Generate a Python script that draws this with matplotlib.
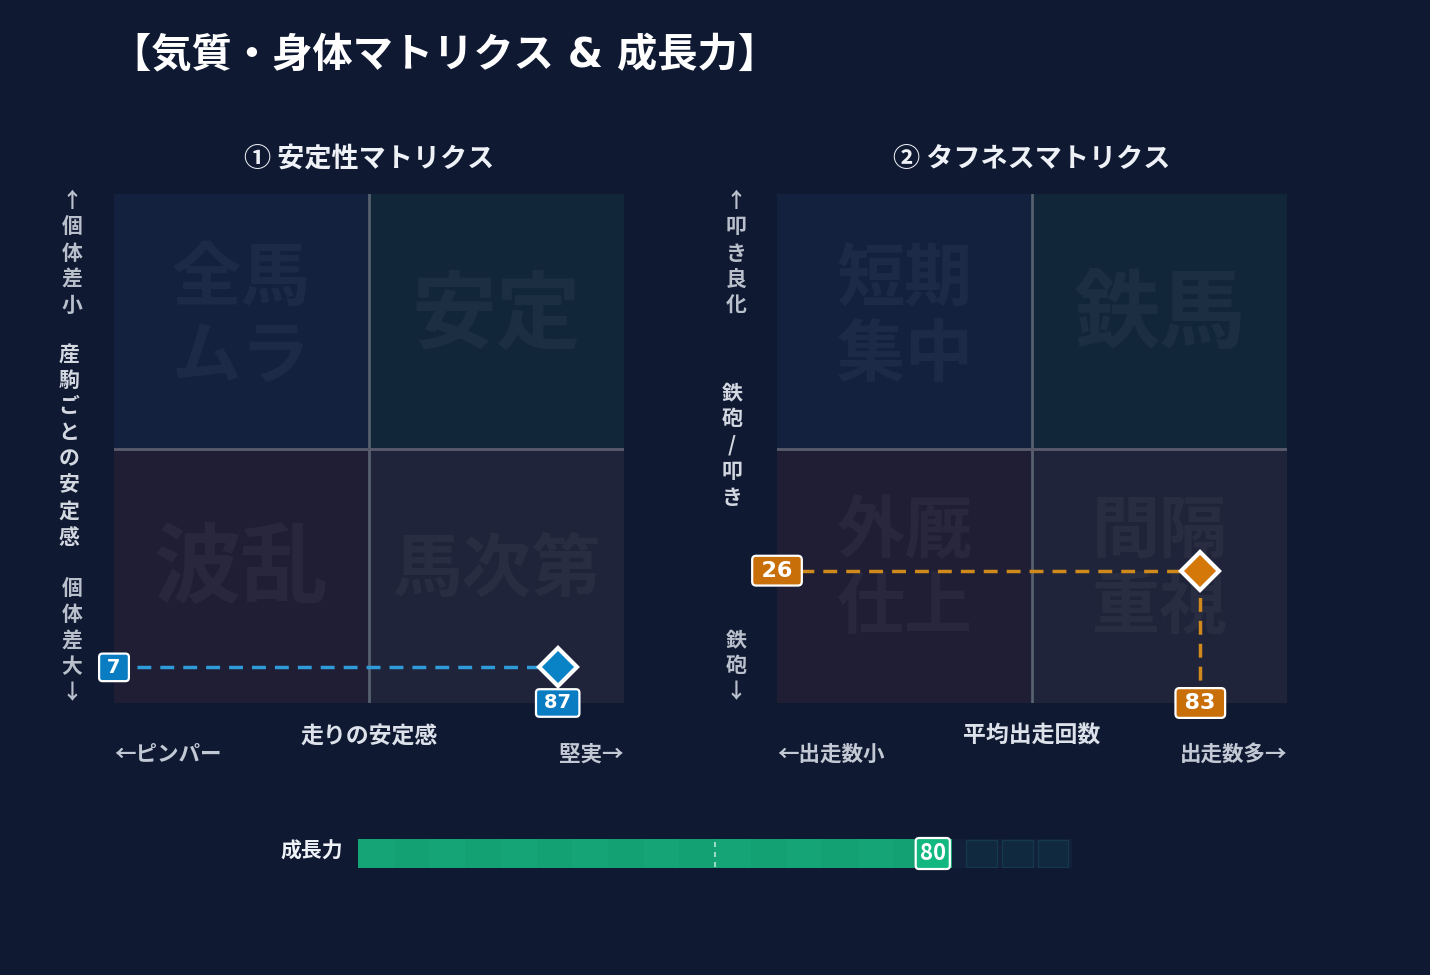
import matplotlib
matplotlib.use("Agg")
import matplotlib.pyplot as plt
from matplotlib.patches import Rectangle

plt.rcParams['font.family'] = ['Noto Sans CJK JP', 'DejaVu Sans']

# ---------------- data ----------------
title = "【気質・身体マトリクス & 成長力】"
matrix_titles = ["① 安定性マトリクス", "② タフネスマトリクス"]

# quadrant labels: (top-left, top-right, bottom-left, bottom-right)
stab_quadrants = ["全馬\nムラ", "安定", "波乱", "馬次第"]
tough_quadrants = ["短期\n集中", "鉄馬", "外厩\n仕上", "間隔\n重視"]

stab_x_label = "走りの安定感"
stab_x_ends = ["←ピンパー", "堅実→"]
stab_y_labels = ["↑個体差小", "産駒ごとの安定感", "個体差大↓"]

tough_x_label = "平均出走回数"
tough_x_ends = ["←出走数小", "出走数多→"]
tough_y_labels = ["↑叩き良化", "鉄砲/叩き", "鉄砲↓"]

stab_x_value = 87
stab_y_value = 7
tough_x_value = 83
tough_y_value = 26

growth_label = "成長力"
growth_value = 80
growth_steps = list(range(0, 100, 5))

# ---------------- styling ----------------
W, H = 1430, 975
BG = "#0f1932"
quad_colors = ["#13213f", "#12263a", "#1f1e35", "#20243a"]
ghost = (1, 1, 1, 0.045)
NUM_FONT = ['DejaVu Sans', 'Noto Sans CJK JP']

fig = plt.figure(figsize=(W / 100, H / 100), dpi=100)
fig.patch.set_facecolor(BG)


def px(x, y):
    return x / W, 1 - y / H


def add_ax(x0, y0, x1, y1):
    ax = fig.add_axes([x0 / W, 1 - y1 / H, (x1 - x0) / W, (y1 - y0) / H])
    ax.set_facecolor(BG)
    for s in ax.spines.values():
        s.set_visible(False)
    ax.set_xticks([])
    ax.set_yticks([])
    return ax


def stacked(s):
    return "\n".join(list(s))


def value_box(ax, x, y, v, fs, fc):
    bbox = dict(boxstyle="round,pad=0.22,rounding_size=0.18", facecolor=fc,
                edgecolor="white", lw=1.6)
    ax.text(x, y, f"\u2009{v}\u2009", ha="center", va="center", fontsize=fs,
            fontweight="bold", family=NUM_FONT, color="white", bbox=bbox, zorder=6,
            clip_on=False)


def draw_matrix(ax, quads, ghost_sizes, xv, yv, color, line_color, box_color, fs):
    ax.set_xlim(0, 100)
    ax.set_ylim(0, 100)
    rects = [(0, 50), (50, 50), (0, 0), (50, 0)]
    for (rx, ry), c in zip(rects, quad_colors):
        ax.add_patch(Rectangle((rx, ry), 50, 50, facecolor=c, edgecolor="none", zorder=0))
    ax.axvline(50, color="#56606e", lw=2, zorder=1)
    ax.axhline(50, color="#5a5c6e", lw=2, zorder=1)
    centers = [(25, 75.5), (75, 76), (25, 26), (75, 26)]
    for (cx, cy), t, gs in zip(centers, quads, ghost_sizes):
        ax.text(cx, cy, t, ha="center", va="center", fontsize=gs, fontweight="bold",
                color=ghost, linespacing=1.12, zorder=1)
    ax.plot([0, xv], [yv, yv], ls=(0, (4, 2.6)), color=line_color, lw=2.5, zorder=3,
            clip_on=False)
    ax.plot([xv, xv], [0, yv], ls=(0, (4, 2.6)), color=line_color, lw=2.5, zorder=3,
            clip_on=False)
    ax.plot([xv], [yv], marker="D", markersize=19, markerfacecolor=color,
            markeredgecolor="white", markeredgewidth=3, zorder=5, clip_on=False)
    value_box(ax, 0, yv, yv, fs, box_color)
    value_box(ax, xv, 0, xv, fs, box_color)


def side_label(x, y, s, color):
    fig.text(*px(x, y), stacked(s), ha="center", va="center", fontsize=15,
             fontweight="bold", color=color, linespacing=1.3)


# title
fig.text(*px(111, 55), title, ha="left", va="center", fontsize=29, fontweight="bold",
         family=['DejaVu Sans', 'Noto Sans CJK JP'], color="white")

# ---- matrix 1 ----
ax1 = add_ax(114, 194, 624, 703)
draw_matrix(ax1, stab_quadrants, [50, 61, 63, 50], stab_x_value, stab_y_value,
            "#0a82c6", "#2f9bd8", "#0a7cc2", 14)
fig.text(*px(369, 159), matrix_titles[0], ha="center", va="center", fontsize=19.5,
         fontweight="bold", color="#eef1f6")
fig.text(*px(369, 736), stab_x_label, ha="center", va="center", fontsize=16.5,
         fontweight="bold", color="#dde2ea")
fig.text(*px(114, 754), stab_x_ends[0], ha="left", va="center", fontsize=15.5,
         fontweight="bold", color="#c3c9d4")
fig.text(*px(624, 754), stab_x_ends[1], ha="right", va="center", fontsize=15.5,
         fontweight="bold", color="#c3c9d4")
side_label(72, 253, stab_y_labels[0], "#b9c0cc")
side_label(69, 446, stab_y_labels[1], "#d3d8e0")
side_label(72, 641, stab_y_labels[2], "#b9c0cc")

# ---- matrix 2 ----
ax2 = add_ax(777, 194, 1287, 703)
draw_matrix(ax2, tough_quadrants, [49, 62, 49, 49], tough_x_value, tough_y_value,
            "#d4780a", "#d08a1c", "#c96f0a", 16)
fig.text(*px(1032, 159), matrix_titles[1], ha="center", va="center", fontsize=19.5,
         fontweight="bold", color="#eef1f6")
fig.text(*px(1032, 736), tough_x_label, ha="center", va="center", fontsize=16.5,
         fontweight="bold", color="#dde2ea")
fig.text(*px(777, 754), tough_x_ends[0], ha="left", va="center", fontsize=15.5,
         fontweight="bold", color="#c3c9d4")
fig.text(*px(1287, 754), tough_x_ends[1], ha="right", va="center", fontsize=15.5,
         fontweight="bold", color="#c3c9d4")
side_label(736, 253, tough_y_labels[0], "#b9c0cc")
side_label(732, 445, tough_y_labels[1], "#d3d8e0")
side_label(736, 666, tough_y_labels[2], "#b9c0cc")

# ---- growth bar ----
ax3 = add_ax(358, 839, 1072, 868)
ax3.set_xlim(0, 100)
ax3.set_ylim(0, 1)
ax3.add_patch(Rectangle((0, 0), 100, 1, facecolor="#12203a", edgecolor="none", zorder=0))
for i, s in enumerate(growth_steps):
    if s < growth_value:
        c = "#14a475" if i % 2 == 0 else "#13a073"
        ax3.add_patch(Rectangle((s, 0), 5, 1, facecolor=c, edgecolor="none", zorder=1))
    elif s == growth_value:
        ax3.add_patch(Rectangle((s, 0), 3.2, 1, facecolor="#14a475", edgecolor="none",
                                zorder=1))
    else:
        ax3.add_patch(Rectangle((s + 0.2, 0.04), 4.3, 0.92, facecolor="#10293f",
                                edgecolor="#15384a", lw=1, zorder=1))
ax3.axvline(50, ymin=0.05, ymax=0.95, color="#b5e6d2", lw=1.2, ls=(0, (3, 3)), zorder=2)
ax3.text(growth_value + 0.5, 0.5, f"{growth_value}", ha="center", va="center",
         fontsize=16, fontweight="bold", color="white", zorder=4,
         bbox=dict(boxstyle="round,pad=0.18,rounding_size=0.15", facecolor="#12b880",
                   edgecolor="white", lw=1.6))
fig.text(*px(343, 851), growth_label, ha="right", va="center", fontsize=15,
         fontweight="bold", color="#eef1f6")

fig.savefig("out.png", dpi=100, facecolor=BG)
